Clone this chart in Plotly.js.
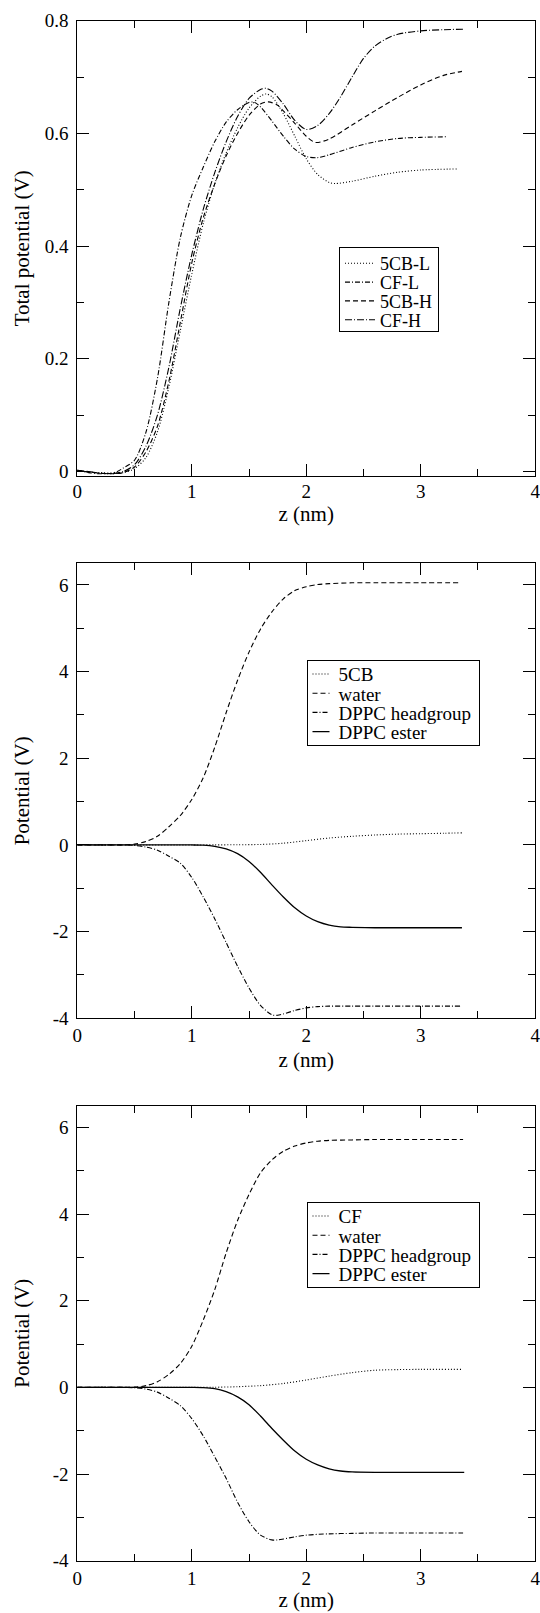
<!DOCTYPE html>
<html>
<head>
<meta charset="utf-8">
<script src="https://cdn.plot.ly/plotly-3.0.1.min.js"></script>
<style>
  html, body { margin: 0; padding: 0; background: #fff; }
  #chart { width: 540px; height: 1613px; }
</style>
</head>
<body>
<div id="chart"></div>
<script>
// ---------- Panel 1: total potential ----------
const z_5CB_L = [0, 0.1, 0.2, 0.3, 0.4, 0.5, 0.6, 0.7, 0.8, 0.9, 1.0, 1.1, 1.2, 1.3, 1.4, 1.5, 1.6, 1.65, 1.7, 1.8, 1.9, 2.0, 2.1, 2.2, 2.25, 2.4, 2.6, 2.8, 3.0, 3.33];
const v_5CB_L = [0.002, -0.001, -0.002, -0.003, -0.002, 0.005, 0.025, 0.07, 0.15, 0.25, 0.35, 0.44, 0.51, 0.565, 0.61, 0.645, 0.666, 0.67, 0.665, 0.635, 0.595, 0.555, 0.527, 0.513, 0.511, 0.515, 0.524, 0.531, 0.535, 0.537];

const z_CF_L = [0, 0.1, 0.2, 0.3, 0.35, 0.4, 0.5, 0.6, 0.7, 0.8, 0.9, 1.0, 1.1, 1.2, 1.3, 1.4, 1.5, 1.55, 1.6, 1.7, 1.8, 1.9, 2.0, 2.1, 2.2, 2.4, 2.6, 2.8, 3.0, 3.22];
const v_CF_L = [0.002, -0.002, -0.004, -0.003, 0.0, 0.006, 0.02, 0.07, 0.165, 0.3, 0.415, 0.49, 0.54, 0.585, 0.62, 0.642, 0.655, 0.655, 0.647, 0.622, 0.595, 0.572, 0.559, 0.557, 0.562, 0.575, 0.585, 0.591, 0.593, 0.594];

const z_5CB_H = [0, 0.1, 0.2, 0.3, 0.4, 0.5, 0.6, 0.7, 0.8, 0.9, 1.0, 1.1, 1.2, 1.3, 1.4, 1.5, 1.6, 1.67, 1.75, 1.8, 1.9, 2.0, 2.08, 2.2, 2.4, 2.6, 2.8, 3.0, 3.2, 3.36];
const v_5CB_H = [0.002, -0.001, -0.003, -0.004, -0.002, 0.008, 0.035, 0.08, 0.16, 0.265, 0.37, 0.45, 0.51, 0.56, 0.6, 0.632, 0.652, 0.656, 0.65, 0.64, 0.618, 0.595, 0.584, 0.59, 0.615, 0.64, 0.664, 0.686, 0.703, 0.71];

const z_CF_H = [0, 0.1, 0.2, 0.3, 0.4, 0.5, 0.6, 0.7, 0.8, 0.9, 1.0, 1.1, 1.2, 1.3, 1.4, 1.5, 1.6, 1.65, 1.7, 1.8, 1.9, 2.0, 2.1, 2.2, 2.3, 2.4, 2.5, 2.6, 2.7, 2.8, 3.0, 3.2, 3.38];
const v_CF_H = [0.002, 0.0, -0.003, -0.004, 0.0, 0.012, 0.045, 0.1, 0.185, 0.29, 0.385, 0.465, 0.53, 0.585, 0.63, 0.662, 0.678, 0.68, 0.675, 0.652, 0.623, 0.607, 0.614, 0.635, 0.665, 0.7, 0.733, 0.755, 0.768, 0.776, 0.782, 0.784, 0.785];

// ---------- Panel 2: 5CB system components ----------
const z2_5CB = [0, 0.5, 1.0, 1.2, 1.4, 1.6, 1.8, 2.0, 2.2, 2.4, 2.6, 2.8, 3.0, 3.2, 3.36];
const v2_5CB = [0, 0, 0, 0.002, 0.005, 0.012, 0.04, 0.1, 0.16, 0.2, 0.23, 0.25, 0.26, 0.27, 0.28];

const z2_water = [0, 0.2, 0.4, 0.5, 0.6, 0.7, 0.8, 0.9, 1.0, 1.1, 1.2, 1.3, 1.4, 1.5, 1.6, 1.7, 1.8, 1.9, 2.0, 2.1, 2.2, 2.4, 2.6, 2.8, 3.0, 3.35];
const v2_water = [0, 0, 0, 0.02, 0.08, 0.2, 0.42, 0.68, 1.05, 1.55, 2.25, 3.05, 3.8, 4.45, 4.98, 5.38, 5.68, 5.87, 5.96, 6.01, 6.03, 6.05, 6.05, 6.05, 6.05, 6.05];

const z2_head = [0, 0.4, 0.5, 0.6, 0.7, 0.8, 0.9, 1.0, 1.1, 1.2, 1.3, 1.4, 1.5, 1.6, 1.7, 1.75, 1.8, 1.9, 2.0, 2.1, 2.2, 2.4, 2.6, 3.0, 3.36];
const v2_head = [0, 0, -0.01, -0.05, -0.12, -0.26, -0.42, -0.75, -1.2, -1.7, -2.25, -2.8, -3.3, -3.7, -3.92, -3.93, -3.9, -3.82, -3.76, -3.73, -3.72, -3.72, -3.72, -3.72, -3.72];

const z2_ester = [0, 1.0, 1.1, 1.2, 1.3, 1.4, 1.5, 1.6, 1.7, 1.8, 1.9, 2.0, 2.1, 2.2, 2.3, 2.4, 2.6, 3.0, 3.36];
const v2_ester = [0, 0, -0.005, -0.03, -0.09, -0.2, -0.38, -0.63, -0.92, -1.2, -1.45, -1.64, -1.77, -1.85, -1.89, -1.9, -1.91, -1.91, -1.91];

// ---------- Panel 3: CF system components ----------
const z3_CF = [0, 1.0, 1.2, 1.4, 1.6, 1.8, 2.0, 2.2, 2.4, 2.6, 2.8, 3.0, 3.37];
const v3_CF = [0, 0, 0.003, 0.015, 0.04, 0.09, 0.17, 0.26, 0.34, 0.395, 0.41, 0.415, 0.415];

const z3_water = [0, 0.2, 0.4, 0.5, 0.6, 0.7, 0.8, 0.9, 1.0, 1.1, 1.2, 1.3, 1.4, 1.5, 1.6, 1.7, 1.8, 1.9, 2.0, 2.1, 2.2, 2.4, 2.6, 3.0, 3.37];
const v3_water = [0, 0, 0, 0.005, 0.04, 0.13, 0.3, 0.55, 0.95, 1.55, 2.25, 3.1, 3.85, 4.45, 4.95, 5.25, 5.45, 5.57, 5.64, 5.68, 5.7, 5.71, 5.72, 5.72, 5.72];

const z3_head = [0, 0.4, 0.5, 0.6, 0.7, 0.8, 0.9, 1.0, 1.1, 1.2, 1.3, 1.4, 1.5, 1.6, 1.7, 1.75, 1.8, 1.9, 2.0, 2.2, 2.4, 2.6, 3.0, 3.37];
const v3_head = [0, 0, -0.01, -0.04, -0.11, -0.25, -0.42, -0.72, -1.12, -1.6, -2.1, -2.65, -3.1, -3.41, -3.52, -3.52, -3.5, -3.45, -3.41, -3.38, -3.37, -3.36, -3.36, -3.36];

const z3_ester = [0, 1.0, 1.1, 1.2, 1.3, 1.4, 1.5, 1.6, 1.7, 1.8, 1.9, 2.0, 2.1, 2.2, 2.3, 2.4, 2.6, 3.0, 3.38];
const v3_ester = [0, 0, -0.005, -0.03, -0.1, -0.22, -0.4, -0.66, -0.95, -1.22, -1.47, -1.66, -1.79, -1.88, -1.93, -1.95, -1.96, -1.96, -1.96];

// ---------- Tick labels ----------
const xTickVals = [0, 1, 2, 3, 4];
const xTickText = ['0', '1', '2', '3', '4'];
const y1TickVals = [0, 0.2, 0.4, 0.6, 0.8];
const y1TickText = ['0', '0.2', '0.4', '0.6', '0.8'];
const y2TickVals = [-4, -2, 0, 2, 4, 6];
const y2TickText = ['-4', '-2', '0', '2', '4', '6'];

const FONT = '"Liberation Serif", "Times New Roman", serif';
const DOT = '1px,2px', DASH = '5px,3px', DASHDOT = '5px,2px,1px,2px', LDASHDOT = '7px,2px,1px,2px';

function tr(x, y, name, dash, xa, ya, leg, w) {
  return { x: x, y: y, name: name, type: 'scatter', mode: 'lines', xaxis: xa, yaxis: ya, legend: leg,
           line: { color: '#000', width: w || 1.1, dash: dash, shape: 'spline', smoothing: 0.8 } };
}

const data = [
  tr(z_5CB_L, v_5CB_L, '5CB-L', DOT, 'x', 'y', 'legend'),
  tr(z_CF_L, v_CF_L, 'CF-L', DASHDOT, 'x', 'y', 'legend'),
  tr(z_5CB_H, v_5CB_H, '5CB-H', DASH, 'x', 'y', 'legend'),
  tr(z_CF_H, v_CF_H, 'CF-H', LDASHDOT, 'x', 'y', 'legend'),

  tr(z2_5CB, v2_5CB, '5CB', DOT, 'x2', 'y2', 'legend2'),
  tr(z2_water, v2_water, 'water', DASH, 'x2', 'y2', 'legend2'),
  tr(z2_head, v2_head, 'DPPC headgroup', DASHDOT, 'x2', 'y2', 'legend2'),
  tr(z2_ester, v2_ester, 'DPPC ester', 'solid', 'x2', 'y2', 'legend2', 1.3),

  tr(z3_CF, v3_CF, 'CF', DOT, 'x3', 'y3', 'legend3'),
  tr(z3_water, v3_water, 'water', DASH, 'x3', 'y3', 'legend3'),
  tr(z3_head, v3_head, 'DPPC headgroup', DASHDOT, 'x3', 'y3', 'legend3'),
  tr(z3_ester, v3_ester, 'DPPC ester', 'solid', 'x3', 'y3', 'legend3', 1.3)
];

const W = 540, H = 1613;
const xDom = [77.3 / W, 535.2 / W];
function yDom(topPx, botPx) { return [1 - botPx / H, 1 - topPx / H]; }

function xAxis(anchor, standoff, labelOff) {
  return {
    domain: xDom, anchor: anchor, range: [0, 4], showgrid: false, zeroline: false,
    showline: true, linecolor: '#000', linewidth: 1, mirror: 'ticks',
    ticks: 'inside', ticklen: 12, tickwidth: 1, tickcolor: '#000',
    tickmode: 'array', tickvals: xTickVals, ticktext: xTickText, ticklabeloverflow: 'allow',
    ticklabelstandoff: labelOff,
    minor: { tickmode: 'linear', tick0: 0, dtick: 0.5, ticks: 'inside', ticklen: 7, tickwidth: 1, tickcolor: '#000', showgrid: false },
    tickfont: { family: FONT, size: 19, color: '#000' },
    title: { text: 'z (nm)', font: { family: FONT, size: 21, color: '#000' }, standoff: standoff },
    automargin: false, fixedrange: true
  };
}
function yAxis(anchor, dom, range, tv, tt, minorD, title, standoff) {
  return {
    domain: dom, anchor: anchor, range: range, showgrid: false, zeroline: false,
    showline: true, linecolor: '#000', linewidth: 1, mirror: 'ticks',
    ticks: 'inside', ticklen: 12, tickwidth: 1, tickcolor: '#000',
    tickmode: 'array', tickvals: tv, ticktext: tt, ticklabeloverflow: 'allow',
    minor: { tickmode: 'linear', tick0: 0, dtick: minorD, ticks: 'inside', ticklen: 7, tickwidth: 1, tickcolor: '#000', showgrid: false },
    tickfont: { family: FONT, size: 19, color: '#000' }, ticklabelstandoff: 4,
    title: { text: title, font: { family: FONT, size: 21, color: '#000' }, standoff: standoff },
    automargin: false, fixedrange: true
  };
}
function legend(xPx, yPx, size) {
  return { x: xPx / W, y: 1 - yPx / H, xanchor: 'left', yanchor: 'top', bgcolor: '#fff',
           bordercolor: '#000', borderwidth: 1, font: { family: FONT, size: size, color: '#000' },
           traceorder: 'normal', itemwidth: 30 };
}

const layout = {
  width: W, height: H, margin: { l: 0, r: 0, t: 0, b: 0 },
  paper_bgcolor: '#fff', plot_bgcolor: '#fff', showlegend: true,
  font: { family: FONT, color: '#000' },
  xaxis: xAxis('y', 0, -2), xaxis2: xAxis('y2', 7, 0), xaxis3: xAxis('y3', 2, 0),
  yaxis: yAxis('x', yDom(20.7, 476), [-0.008, 0.8], y1TickVals, y1TickText, 0.1, 'Total potential (V)', 9),
  yaxis2: yAxis('x2', yDom(563.3, 1018.3), [-4, 6.5], y2TickVals, y2TickText, 1, 'Potential (V)', 17),
  yaxis3: yAxis('x3', yDom(1105.7, 1560.7), [-4, 6.5], y2TickVals, y2TickText, 1, 'Potential (V)', 17),
  legend: legend(339, 247.3, 18),
  legend2: legend(306.5, 660, 19),
  legend3: legend(306.5, 1202, 19)
};

// Grace-style compact legend boxes: first-row offset, row pitch, box height, sample shift (px).
const legendFirst = { legend: 16, legend2: 14, legend3: 14 };
const legendRow = { legend: 18.8, legend2: 19.2, legend3: 19.2 };
const legendBoxH = { legend: 83.5, legend2: 84.5, legend3: 84.5 };
const legendShift = { legend: 0, legend2: 9, legend3: 9 };

Plotly.newPlot('chart', data, layout, { displayModeBar: false, staticPlot: true }).then(function (gd) {
  Object.keys(legendRow).forEach(function (id) {
    const lg = gd.querySelector('g.' + id);
    if (!lg) return;
    const items = Array.prototype.slice.call(lg.querySelectorAll('g.traces'));
    if (items.length < 2) return;
    const pos = items.map(function (it) {
      const m = /translate\(\s*([-\d.e]+)[ ,]+([-\d.e]+)\s*\)/.exec(it.getAttribute('transform') || '');
      return m ? [parseFloat(m[1]), parseFloat(m[2])] : [0, 0];
    });
    const row = legendRow[id], shift = legendShift[id], first = legendFirst[id];
    items.forEach(function (it, i) {
      it.setAttribute('transform', 'translate(' + (pos[i][0] - shift) + ',' + (first + i * row) + ')');
      if (shift) {
        it.querySelectorAll('path').forEach(function (p) {
          const d = p.getAttribute('d') || '';
          const m = /^M\s*([-\d.]+)[ ,]+([-\d.]+)\s*h\s*([-\d.]+)\s*$/.exec(d);
          if (m) p.setAttribute('d', 'M' + (parseFloat(m[1]) + shift) + ',' + m[2] + 'h' + (parseFloat(m[3]) - shift - 4));
        });
      }
    });
    const bg = lg.querySelector('rect.bg');
    if (bg) {
      bg.setAttribute('height', legendBoxH[id]);
      if (shift) bg.setAttribute('width', parseFloat(bg.getAttribute('width')) - shift + 2);
    }
  });
});
</script>
</body>
</html>
